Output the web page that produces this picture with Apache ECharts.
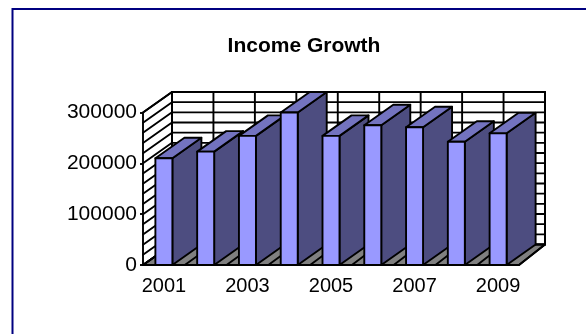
<!DOCTYPE html>
<html>
<head>
<meta charset="utf-8">
<style>
  html, body { margin: 0; padding: 0; background: #fff; }
  #chart { width: 586px; height: 334px; }
</style>
<script src="https://cdn.jsdelivr.net/npm/echarts@6/dist/echarts.min.js"></script>
</head>
<body>
<div id="chart"></div>
<script>
// Income per year
const years = ['2001', '2002', '2003', '2004', '2005', '2006', '2007', '2008', '2009'];
const income = [210000, 223000, 254000, 300000, 254000, 275000, 271000, 242500, 259000];

// Wall rulings: every 20000 upward, one edge per year band
const wallRules = [0, 20000, 40000, 60000, 80000, 100000, 120000, 140000, 160000, 180000,
  200000, 220000, 240000, 260000, 280000, 300000];
const bandEdges = [0, 1, 2, 3, 4, 5, 6, 7, 8, 9];
const panel = [0];

// Oblique projection used for the pseudo-3D box
const DEPTH_X = 29;
const DEPTH_Y = -20.5;
const BACK_SCALE = 373 / 376;
const BAR_WIDTH = 17;

const INK = { stroke: '#000', lineWidth: 1.9 };

function backX(sys, x) {
  return sys.x + (x - sys.x) * BACK_SCALE + DEPTH_X;
}
function line(x1, y1, x2, y2) {
  return { type: 'line', shape: { x1, y1, x2, y2 }, style: Object.assign({ lineCap: 'round' }, INK) };
}
function poly(points, fill) {
  return { type: 'polygon', shape: { points }, style: Object.assign({ fill, lineJoin: 'round' }, INK) };
}

// White walls and grey floor of the box
function renderPanel(params, api) {
  const s = params.coordSys;
  const top = s.y, bottom = s.y + s.height, left = s.x, right = s.x + s.width;
  const backLeft = backX(s, left), backRight = backX(s, right);
  return {
    type: 'group',
    children: [
      poly([[backLeft, top + DEPTH_Y], [backRight, top + DEPTH_Y], [backRight, bottom + DEPTH_Y], [backLeft, bottom + DEPTH_Y]], '#fff'),
      poly([[left, top], [backLeft, top + DEPTH_Y], [backLeft, bottom + DEPTH_Y], [left, bottom]], '#fff'),
      poly([[left, bottom], [backLeft, bottom + DEPTH_Y], [backRight, bottom + DEPTH_Y], [right, bottom]], '#808080')
    ]
  };
}

// Horizontal rule on the back wall, continued diagonally over the side wall
function renderWallRule(params, api) {
  const s = params.coordSys;
  const y = api.coord([0, wallRules[params.dataIndex]])[1];
  const backLeft = backX(s, s.x), backRight = backX(s, s.x + s.width);
  return {
    type: 'group',
    children: [
      line(s.x, y, backLeft, y + DEPTH_Y),
      line(backLeft, y + DEPTH_Y, backRight, y + DEPTH_Y)
    ]
  };
}

// Band edge: vertical on the back wall, diagonal across the floor
function renderBandEdge(params, api) {
  const s = params.coordSys;
  const x = s.x + s.width * bandEdges[params.dataIndex] / years.length;
  const bx = backX(s, x);
  const top = s.y, bottom = s.y + s.height;
  return {
    type: 'group',
    children: [
      line(bx, top + DEPTH_Y, bx, bottom + DEPTH_Y),
      line(x, bottom, bx, bottom + DEPTH_Y)
    ]
  };
}

// One extruded column: side, top, then front face
function renderColumn(params, api) {
  const top = api.coord([api.value(0), api.value(1)]);
  const base = api.coord([api.value(0), 0]);
  const l = top[0] - BAR_WIDTH / 2, r = top[0] + BAR_WIDTH / 2;
  const t = top[1], b = base[1];
  return {
    type: 'group',
    children: [
      poly([[r, t], [r + DEPTH_X, t + DEPTH_Y], [r + DEPTH_X, b + DEPTH_Y], [r, b]], '#4d4d80'),
      poly([[l, t], [l + DEPTH_X, t + DEPTH_Y], [r + DEPTH_X, t + DEPTH_Y], [r, t]], '#7373bf'),
      poly([[l, t], [r, t], [r, b], [l, b]], '#9999ff')
    ]
  };
}

const chart = echarts.init(document.getElementById('chart'), null, { renderer: 'canvas' });
chart.setOption({
  animation: false,
  backgroundColor: '#fff',
  title: {
    text: 'Income Growth',
    left: 304,
    top: 36,
    textAlign: 'center',
    textVerticalAlign: 'top',
    padding: 0,
    textStyle: { fontFamily: 'Liberation Sans', fontSize: 21, fontWeight: 'bold', color: '#000' }
  },
  grid: { left: 143, right: 67, top: 112.5, bottom: 69 },
  xAxis: {
    type: 'category',
    data: years,
    axisLine: { show: false },
    axisTick: { show: false },
    axisLabel: {
      interval: 1, margin: 11, color: '#000',
      fontFamily: 'Liberation Sans', fontSize: 20
    }
  },
  yAxis: {
    type: 'value',
    min: 0,
    max: 300000,
    interval: 100000,
    splitLine: { show: false },
    axisLine: { show: false },
    axisTick: { show: true, length: 3, lineStyle: { color: '#000', width: 1.9 } },
    axisLabel: {
      margin: 6, color: '#000',
      padding: [2, 0, 0, 0],
      fontFamily: 'Liberation Sans', fontSize: 21,
      formatter: value => String(value)
    }
  },
  graphic: [
    // Chart-area edge along the top and left of the page
    { type: 'line', shape: { x1: 12.5, y1: 9, x2: 586, y2: 9 }, style: { stroke: '#000080', lineWidth: 2 } },
    { type: 'line', shape: { x1: 12.5, y1: 8, x2: 12.5, y2: 334 }, style: { stroke: '#000080', lineWidth: 2 } }
  ],
  series: [
    { type: 'custom', name: 'panel', silent: true, clip: false, data: panel.map(v => [0, v]), encode: { x: 0, y: 1 }, renderItem: renderPanel, z: 1 },
    { type: 'custom', name: 'rules', silent: true, clip: false, data: wallRules.map(v => [0, v]), encode: { x: 0, y: 1 }, renderItem: renderWallRule, z: 2 },
    { type: 'custom', name: 'edges', silent: true, clip: false, data: bandEdges.map(() => [0, 0]), encode: { x: 0, y: 1 }, renderItem: renderBandEdge, z: 3 },
    { type: 'custom', name: 'Income', clip: false, data: income.map((v, i) => [i, v]), encode: { x: 0, y: 1 }, renderItem: renderColumn, z: 4 }
  ]
});
</script>
</body>
</html>
